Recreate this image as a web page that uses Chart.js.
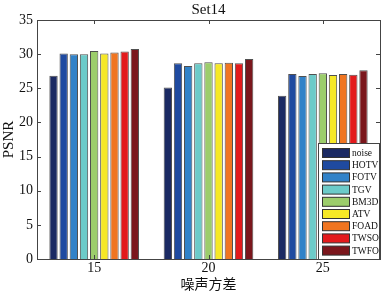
<!DOCTYPE html>
<html><head><meta charset="utf-8">
<script src="https://cdn.jsdelivr.net/npm/chart.js@4"></script>
<style>html,body{margin:0;padding:0;background:#fff}#wrap{width:382px;height:293px}</style>
</head><body><div id="wrap"><canvas id="c" width="382" height="293"></canvas></div>
<script>
const categories = ['15', '20', '25'];
const methods = ['noise', 'HOTV', 'FOTV', 'TGV', 'BM3D', 'ATV', 'FOAD', 'TWSO', 'TWFO'];
const noise = [26.85, 25.1, 23.9];
const HOTV = [30.1, 28.65, 27.1];
const FOTV = [30.0, 28.25, 26.8];
const TGV = [30.0, 28.65, 27.1];
const BM3D = [30.45, 28.8, 27.2];
const ATV = [30.1, 28.65, 26.95];
const FOAD = [30.25, 28.75, 27.1];
const TWSO = [30.4, 28.65, 27.0];
const TWFO = [30.75, 29.3, 27.65];
const colors = ['#1b2a63', '#1f4aa0', '#3182c8', '#6ccbc9', '#9ccd6b', '#f6e826', '#f07521', '#e31a1c', '#7b161c'];
const yTicks = [0, 5, 10, 15, 20, 25, 30, 35];
const seriesValues = [noise, HOTV, FOTV, TGV, BM3D, ATV, FOAD, TWSO, TWFO];
const chartTitle = 'Set14';
const xTitle = '噪声方差';
const yTitle = 'PSNR';

const serif = "'Liberation Serif', 'DejaVu Serif', serif";

const frame = {
  id: 'frame',
  afterDraw(chart) {
    const {ctx, chartArea: a, scales: {x, y}} = chart;
    ctx.save();
    ctx.strokeStyle = '#444';
    ctx.lineWidth = 1;
    ctx.strokeRect(Math.round(a.left) + 0.5, Math.round(a.top) + 0.5, Math.round(a.right - a.left), Math.round(a.bottom - a.top));
    ctx.beginPath();
    yTicks.forEach(v => {
      const py = Math.round(y.getPixelForValue(v)) + 0.5;
      ctx.moveTo(a.left, py); ctx.lineTo(a.left + 4, py);
      ctx.moveTo(a.right, py); ctx.lineTo(a.right - 4, py);
    });
    categories.forEach((c, i) => {
      const px = Math.round(x.getPixelForValue(i)) + 0.5;
      ctx.moveTo(px, a.bottom); ctx.lineTo(px, a.bottom - 4);
      ctx.moveTo(px, a.top); ctx.lineTo(px, a.top + 4);
    });
    ctx.stroke();
    ctx.fillStyle = '#111';
    ctx.textAlign = 'center';
    ctx.textBaseline = 'middle';
    // chart title
    ctx.font = '15px ' + serif;
    ctx.fillText(chartTitle, (a.left + a.right) / 2, 10);
    // x title
    ctx.font = "14px 'Noto Sans CJK SC', sans-serif";
    ctx.fillText(xTitle, (a.left + a.right) / 2, 283.5);
    // y title
    ctx.save();
    ctx.translate(9, (a.top + a.bottom) / 2);
    ctx.rotate(-Math.PI / 2);
    ctx.font = '15px ' + serif;
    ctx.fillText(yTitle, 0, 0);
    ctx.restore();
    // legend
    const lx = 318, ly = 143, lw = 61, lh = 116, rowH = 12.2;
    ctx.fillStyle = '#fff';
    ctx.fillRect(lx, ly, lw, lh);
    ctx.strokeStyle = '#444';
    ctx.strokeRect(lx + 0.5, ly + 0.5, lw, lh);
    ctx.font = '9.5px ' + serif;
    ctx.textAlign = 'left';
    chart.data.datasets.forEach((ds, i) => {
      const cy = ly + 10 + i * rowH;
      ctx.fillStyle = ds.backgroundColor;
      ctx.fillRect(lx + 4, cy - 4.5, 27, 9);
      ctx.strokeStyle = '#333';
      ctx.strokeRect(lx + 4.5, cy - 4.5, 27, 9);
      ctx.fillStyle = '#111';
      ctx.fillText(ds.label, lx + 34, cy + 0.5);
    });
    ctx.restore();
  }
};

new Chart(document.getElementById('c'), {
  type: 'bar',
  data: {
    labels: categories,
    datasets: methods.map((m, i) => ({
      label: m,
      data: seriesValues[i],
      backgroundColor: colors[i],
      borderColor: '#505050',
      borderWidth: 1,
      categoryPercentage: 0.8,
      barPercentage: 0.82
    }))
  },
  options: {
    responsive: false,
    animation: false,
    layout: {padding: {top: 20, right: 2, left: 0, bottom: 0}},
    plugins: {legend: {display: false}, title: {display: false}, tooltip: {enabled: false}},
    scales: {
      x: {
        grid: {display: false, drawTicks: false, tickLength: 0},
        border: {display: false},
        ticks: {color: '#111', font: {family: serif, size: 14}, padding: 1, maxRotation: 0},
        afterFit(s) { s.height = 34; }
      },
      y: {
        min: 0, max: 35,
        grid: {display: false, drawTicks: false, tickLength: 0},
        border: {display: false},
        ticks: {stepSize: 5, color: '#111', font: {family: serif, size: 14}, padding: 4},
        afterFit(s) { s.width = 37; }
      }
    }
  },
  plugins: [frame]
});
</script>
</body></html>
